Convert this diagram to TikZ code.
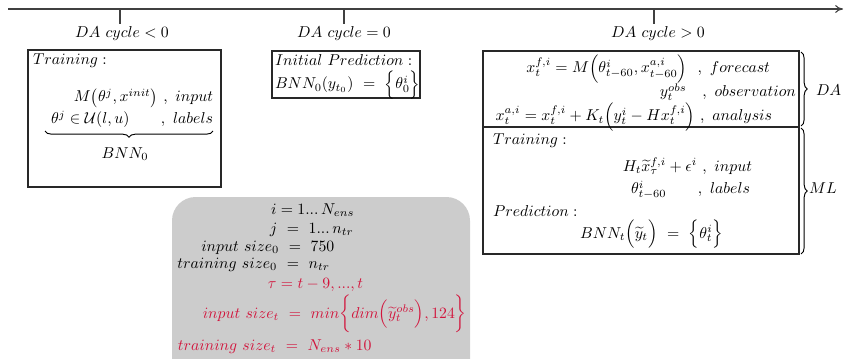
\documentclass[tikz,border=0pt]{standalone}
\usepackage{amsmath,amssymb}
\usetikzlibrary{arrows.meta,decorations.pathreplacing,fit}
\definecolor{myred}{RGB}{210,20,60}
\definecolor{boxgray}{RGB}{204,204,204}
\definecolor{framec}{RGB}{40,40,40}
\begin{document}
\begin{tikzpicture}[x=0.635pt,y=-0.635pt, line width=0.6pt,
  txt/.style={inner sep=0pt, outer sep=0pt},
  frame/.style={draw=framec, line width=0.7pt, inner sep=0pt},
  brc/.style={decorate, decoration={brace, amplitude=4pt}, line width=0.6pt},
  tick/.style={line width=0.7pt, draw=black!75}]
\useasboundingbox (0,0) rectangle (846,359);

% timeline
\coordinate (tl0) at (8,9);
\coordinate (tl1) at (843,9);
\draw[black!75, line width=0.7pt, -{To[length=5pt,width=5pt]}] (tl0) -- (tl1);
\coordinate (t1) at (120,9);  \coordinate (t1e) at (120,24);
\coordinate (t2) at (344,9);  \coordinate (t2e) at (344,24);
\coordinate (t3) at (654,9);  \coordinate (t3e) at (654,24);
\draw[tick] (t1) -- (t1e);
\draw[tick] (t2) -- (t2e);
\draw[tick] (t3) -- (t3e);
\node[txt] (lab1) at (122,34) {$DA\ cycle<0$};
\node[txt] (lab2) at (344,34) {$DA\ cycle=0$};
\node[txt] (lab3) at (658,34) {$DA\ cycle>0$};

% box 1
\node[frame, fit={(28,50) (221,187)}] (box1) {};
\node[txt, anchor=base west] (tr1) at (33,65) {$Training:$};
\node[txt, anchor=base east] (in1) at (213,102) {$M\big(\theta^j,x^{init}\big)\ ,\ input$};
\node[txt, anchor=base east] (lb1) at (213,124) {$\theta^j\in\mathcal{U}(l,u)\qquad,\ labels$};
\coordinate (ub1) at (213,131);
\coordinate (ub2) at (45,131);
\draw[brc] (ub1) -- (ub2);
\node[txt] (bnn0) at (125,154) {$BNN_0$};

% box 2
\node[frame, fit={(272,51) (420,98)}] (box2) {};
\node[txt, anchor=base west] (ip) at (275,66) {$Initial\ Prediction:$};
\node[txt, anchor=base west] (ip2) at (275,89) {$BNN_0(y_{t_0})\ =\ \Big\{\theta_0^i\Big\}$};

% box 3
\node[frame, fit={(483,51) (799,127)}] (boxda) {};
\node[frame, fit={(483,127) (799,254)}] (boxml) {};
\node[txt, anchor=base east] (da1) at (770,73) {$x_t^{f,i}=M\Big(\theta^i_{t-60},x^{a,i}_{t-60}\Big)\ \ ,\ forecast$};
\node[txt, anchor=base east] (da2) at (796,97) {$y_t^{obs}\quad,\ observation$};
\node[txt, anchor=base east] (da3) at (772,121) {$x_t^{a,i}=x_t^{f,i}+K_t\Big(y_t^i-Hx_t^{f,i}\Big)\ ,\ analysis$};

\node[txt, anchor=base west] (tr2) at (493,145) {$Training:$};
\node[txt, anchor=base east] (in2) at (752,171) {$H_t\widetilde{x}_\tau^{f,i}+\epsilon^i\ ,\ input$};
\node[txt, anchor=base east] (lb2) at (750,194) {$\theta^i_{t-60}\qquad,\ labels$};
\node[txt, anchor=base west] (pr) at (493,216) {$Prediction:$};
\node[txt, anchor=base east] (bnnt) at (723,238) {$BNN_t\Big(\widetilde{y}_t\Big)\ =\ \Big\{\theta^i_t\Big\}$};

% right braces
\coordinate (b1s) at (801,52);  \coordinate (b1e) at (801,126);
\coordinate (b2s) at (801,128); \coordinate (b2e) at (801,254);
\draw[brc] (b1s) -- (b1e);
\draw[brc] (b2s) -- (b2e);
\node[txt, anchor=west] (dal) at (816,90) {$DA$};
\node[txt, anchor=west] (mll) at (809,188) {$ML$};

% parameter box
\node[fill=boxgray, rounded corners=15pt, inner sep=0pt, fit={(172,197) (470,385)}] (params) {};
\node[txt, anchor=base] (p1) at (287,214) {\llap{$i$}$\;=\;$\rlap{$1...\,N_{ens}$}};
\node[txt, anchor=base] (p2) at (293,233) {\llap{$j\ $}$\;=\;$\rlap{$\ 1...\,n_{tr}$}};
\node[txt, anchor=base] (p3) at (295,251) {\llap{$input\ size_0\ $}$\;=\;$\rlap{$\ 750$}};
\node[txt, anchor=base] (p4) at (293,268) {\llap{$training\ size_0\ $}$\;=\;$\rlap{$\ n_{tr}$}};
\node[txt, anchor=base, text=myred] (p5) at (287,288) {\llap{$\tau$}$\;=\;$\rlap{$t-9,...,t$}};
\node[txt, anchor=base, text=myred] (p6) at (295,318) {\llap{$input\ size_t\ $}$\;=\;$\rlap{$\ min\bigg\{dim\Big(\widetilde{y}_t^{obs}\Big),124\bigg\}$}};
\node[txt, anchor=base, text=myred] (p7) at (292,350) {\llap{$training\ size_t\ $}$\;=\;$\rlap{$\ N_{ens}*10$}};
\end{tikzpicture}
\end{document}
